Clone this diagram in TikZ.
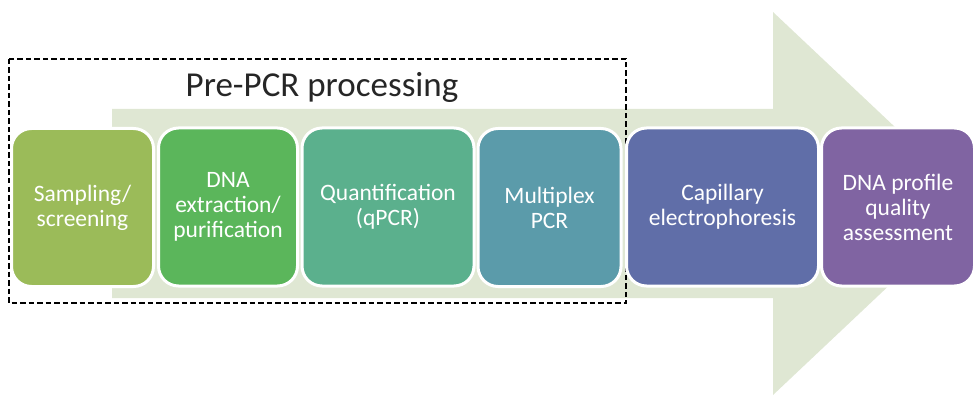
\documentclass[tikz,border=0pt]{standalone}
\usepackage{fontspec}
\setmainfont{Carlito}
\definecolor{arrowbg}{HTML}{DFE7D3}
\definecolor{sampc}{HTML}{9BBB59}
\definecolor{extrc}{HTML}{5BB65B}
\definecolor{quantc}{HTML}{5BB08D}
\definecolor{mplexc}{HTML}{5B9BAA}
\definecolor{capelc}{HTML}{606EA8}
\definecolor{qualc}{HTML}{8064A2}

\begin{document}
\begin{tikzpicture}[x=1pt, y=-1pt,
		stage/.style={rectangle, rounded corners=20pt, draw=white, line width=3pt, text=white, align=center,
			font=\fontsize{23.5}{25}\selectfont, minimum height=158pt, inner sep=2pt, outer sep=0pt}]
			\useasboundingbox (0,0) rectangle (976,398);
			
			% Background arrow
			\fill[arrowbg] (112,109) -- (773,109) -- (773,12) -- (976,203.5) -- (773,395) -- (773,298) -- (112,298) -- cycle;
			
			% Pre-PCR group
			\draw[dashed, dash pattern=on 5.5pt off 3pt, line width=1.5pt] (9,59) rectangle (626,303);
			\node[anchor=base, text=black!85, font=\fontsize{35}{40}\selectfont] (title) at (322,97) {Pre-PCR processing};
			
			% Stages
			\node[stage, fill=sampc, minimum width=142pt] (samp) at (82.5,207.5) {Sampling/\\screening};
			\node[stage, fill=extrc, minimum width=139pt] (extr) at (228,207) {DNA\\extraction/\\purification};
			\node[stage, fill=quantc, minimum width=172pt] (quant) at (388,207) {Quantification\\(qPCR)};
			\node[stage, fill=mplexc, minimum width=143pt] (mplex) at (549.5,207.5) {Multiplex\\PCR};
			\node[stage, fill=capelc, minimum width=192pt] (capel) at (722.5,207) {Capillary\\electrophoresis};
			\node[stage, fill=qualc, minimum width=153pt] (qual) at (898,207) {DNA profile\\quality\\assessment};
		\end{tikzpicture}
\end{document}
